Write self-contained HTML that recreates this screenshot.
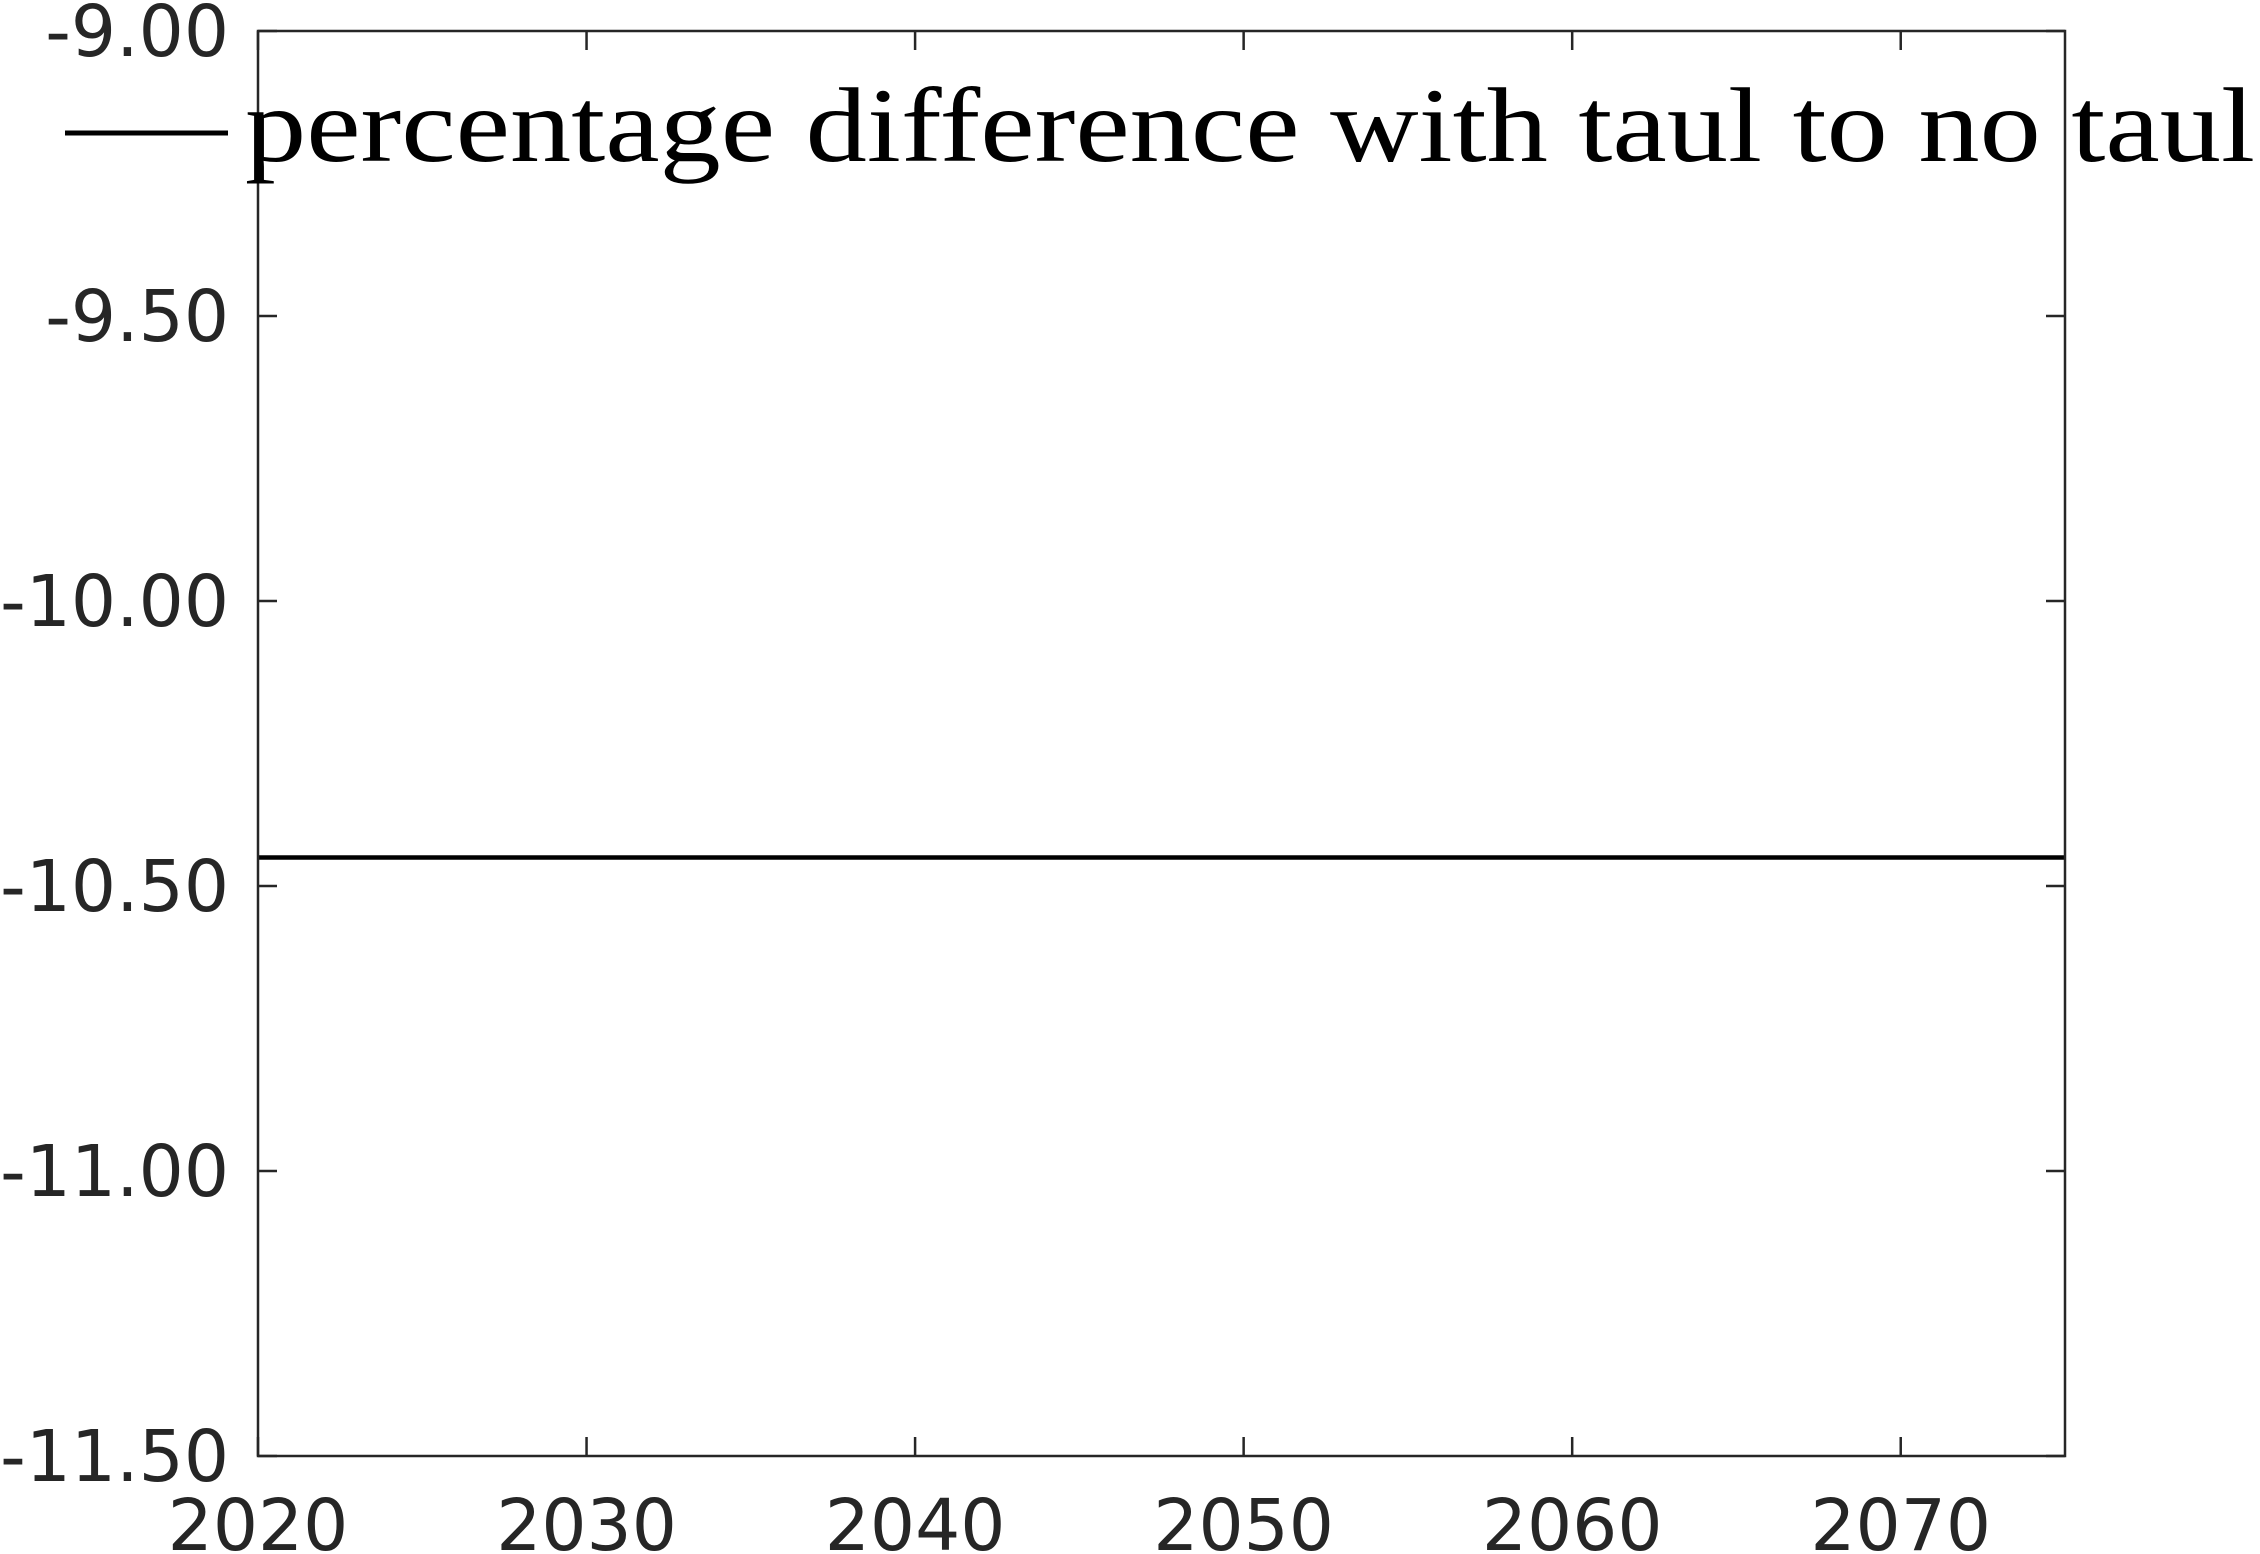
<!DOCTYPE html>
<html><head><meta charset="utf-8"><style>body{margin:0;background:#fff}svg{display:block}</style></head>
<body>
<svg id="chart" width="2260" height="1554" xmlns="http://www.w3.org/2000/svg">
<rect width="2260" height="1554" fill="#fff"/>
<g id="marks"></g>
<g id="axes"></g>
<g>
<line x1="65" y1="133" x2="228" y2="133" stroke="#000" stroke-width="5"/>
<text x="245" y="161" font-family="Liberation Serif, serif" font-size="106" textLength="2010" lengthAdjust="spacingAndGlyphs" fill="#000">percentage difference with taul to no taul</text>
</g>
</svg>
<script>
const years = [2020, 2075];
const values = [-10.45, -10.45];
const yTicks = [-9.0, -9.5, -10.0, -10.5, -11.0, -11.5];
const xTicks = [2020, 2030, 2040, 2050, 2060, 2070];
const L=258,R=2065,T=31,B=1456;
const x=v=>L+(v-2020)/(2075-2020)*(R-L);
const y=v=>T+(-9-v)/(2.5)*(B-T);
const NS='http://www.w3.org/2000/svg';
const axes=document.getElementById('axes'),marks=document.getElementById('marks');
function mk(t,a,p){const e=document.createElementNS(NS,t);for(const k in a)e.setAttribute(k,a[k]);p.appendChild(e);return e;}
const pl=mk('polyline',{points:years.map((d,i)=>x(d)+','+y(values[i])).join(' '),fill:'none',stroke:'#000','stroke-width':4.5},marks);


const fr=mk('rect',{x:L,y:T,width:R-L,height:B-T,fill:'none',stroke:'#262626','stroke-width':2.5},axes);


yTicks.forEach(v=>{const yy=y(v);
mk('line',{x1:L,y1:yy,x2:L+19,y2:yy,stroke:'#262626','stroke-width':2.5},axes);
mk('line',{x1:R,y1:yy,x2:R-19,y2:yy,stroke:'#262626','stroke-width':2.5},axes);
const t=mk('text',{x:229,y:yy+25,'text-anchor':'end','font-family':'DejaVu Sans, sans-serif','font-size':71,fill:'#262626'},axes);
t.textContent=v.toFixed(2);

});
xTicks.forEach(v=>{const xx=x(v);
mk('line',{x1:xx,y1:B,x2:xx,y2:B-19,stroke:'#262626','stroke-width':2.5},axes);
mk('line',{x1:xx,y1:T,x2:xx,y2:T+19,stroke:'#262626','stroke-width':2.5},axes);
const t=mk('text',{x:xx,y:1550,'text-anchor':'middle','font-family':'DejaVu Sans, sans-serif','font-size':71,fill:'#262626'},axes);
t.textContent=v;

});
</script>
</body></html>
